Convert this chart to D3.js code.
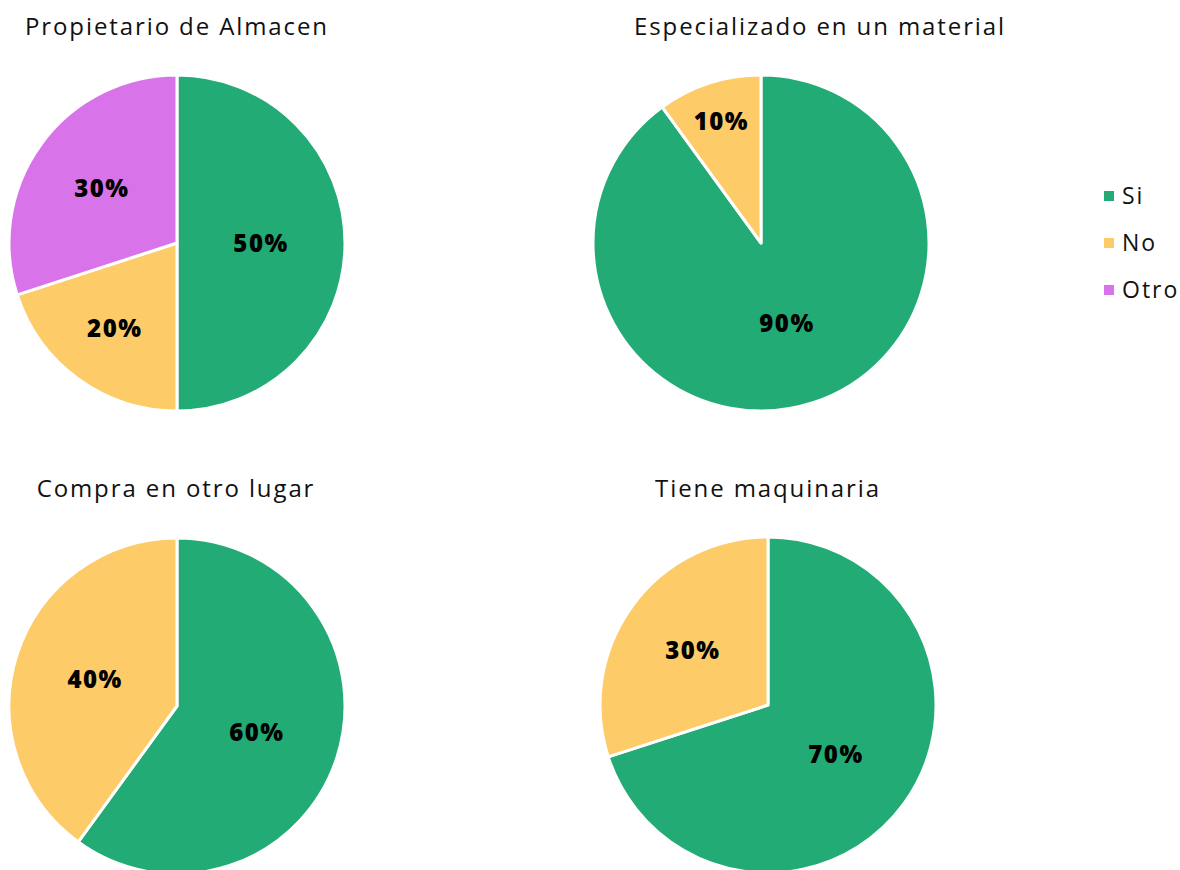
<!DOCTYPE html>
<html>
<head>
<meta charset="utf-8">
<script src="https://cdn.jsdelivr.net/npm/d3@7"></script>
<style>
  body { margin: 0; background: #fff; }
  svg text { font-family: "Open Sans", "Noto Sans", sans-serif; }
</style>
</head>
<body>
<div id="chart"></div>
<script>
// categories and colours
var categories = ["Si", "No", "Otro"];
var colors = ["#23AB75", "#FECB69", "#D973EA"];

// one list of percentages per pie
var titles = ["Propietario de Almacen", "Especializado en un material", "Compra en otro lugar", "Tiene maquinaria"];
var propietario = [50, 20, 30];
var especializado = [90, 10, 0];
var compra = [60, 40, 0];
var maquinaria = [70, 30, 0];
var series = [propietario, especializado, compra, maquinaria];

function init() {
    var w = 1180;
    var h = 870;
    var r = 168;

    // panel layout (pie centre and title centre)
    var panels = [
        {cx: 177, cy: 243, tx: 177, ty: 35},
        {cx: 761, cy: 243, tx: 820, ty: 35},
        {cx: 177, cy: 706, tx: 176, ty: 497},
        {cx: 768, cy: 705, tx: 768, ty: 497}
    ];

    var svg = d3.select("#chart")
                .append("svg")
                .attr("width", w)
                .attr("height", h);

    var color = d3.scaleOrdinal()
                  .domain(categories)
                  .range(colors);

    var pie = d3.pie()
                .sort(null)
                .value(function(d){ return d.value; });

    var arc = d3.arc()
                .innerRadius(0)
                .outerRadius(r);

    series.forEach(function(values, k){
        var p = panels[k];
        var data = categories.map(function(c, i){
            return {cat: c, value: values[i]};
        });
        var total = d3.sum(values);

        var g = svg.append("g")
                   .attr("transform", "translate(" + p.cx + "," + p.cy + ")");

        var slices = pie(data).filter(function(d){ return d.value > 0; });

        g.selectAll("path")
            .data(slices)
            .enter()
            .append("path")
            .attr("d", arc)
            .attr("fill", function(d){ return color(d.data.cat); })
            .attr("stroke", "#fff")
            .attr("stroke-width", 3)
            .attr("stroke-linejoin", "round");

        // inside labels: centre of the inscribed circle of each slice
        g.selectAll("text.lbl")
            .data(slices)
            .enter()
            .append("text")
            .attr("class", "lbl")
            .attr("transform", function(d){
                var frac = d.value / total;
                var half = Math.PI * Math.min(frac, 0.5);
                var ins = Math.min(1 / (1 + 1 / Math.sin(half)), 0.5);
                var rc = r * (1 - ins);
                var a = (d.startAngle + d.endAngle) / 2;
                return "translate(" + (Math.sin(a) * rc) + "," + (-Math.cos(a) * rc) + ")";
            })
            .attr("text-anchor", "middle")
            .attr("dy", "0.36em")
            .attr("font-size", 24)
            .attr("font-weight", 800)
            .attr("letter-spacing", 1.5)
            .attr("fill", "#000")
            .text(function(d){ return d.value + "%"; });

        svg.append("text")
            .attr("x", p.tx)
            .attr("y", p.ty)
            .attr("text-anchor", "middle")
            .attr("font-size", 24)
            .attr("letter-spacing", 1.9)
            .attr("fill", "#111")
            .text(titles[k]);
    });

    // legend
    var legend = svg.append("g")
                    .attr("transform", "translate(1104,196)");

    var item = legend.selectAll("g")
                     .data(categories)
                     .enter()
                     .append("g")
                     .attr("transform", function(d, i){ return "translate(0," + (i * 47) + ")"; });

    item.append("rect")
        .attr("x", 0)
        .attr("y", -5)
        .attr("width", 10)
        .attr("height", 10)
        .attr("fill", function(d){ return color(d); });

    item.append("text")
        .attr("x", 18)
        .attr("dy", "0.36em")
        .attr("font-size", 23)
        .attr("letter-spacing", 2)
        .attr("fill", "#111")
        .text(function(d){ return d; });
}
window.onload = init;
</script>
</body>
</html>
